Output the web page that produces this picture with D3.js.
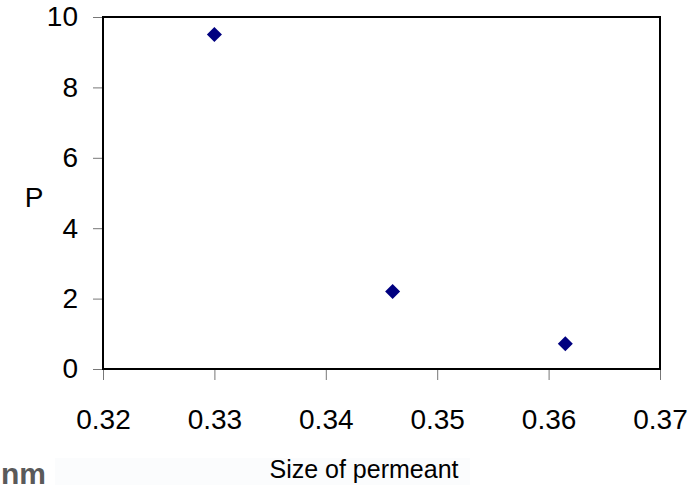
<!DOCTYPE html>
<html>
<head>
<meta charset="utf-8">
<script src="https://cdn.jsdelivr.net/npm/d3@7"></script>
<style>
  body { margin: 0; background: #fff; }
  text { font-family: "Liberation Sans", Arial, sans-serif; }
</style>
</head>
<body>
<div class="chart"></div>
<script>
// data
const sizes = [0.33, 0.346, 0.3615];
const pValues = [9.5, 2.2, 0.72];
const xTicks = [0.32, 0.33, 0.34, 0.35, 0.36, 0.37];
const yTicks = [0, 2, 4, 6, 8, 10];

const width = 698, height = 485;
let plot = {left: 103, top: 17, right: 660, bottom: 369};

const svg = d3.select(".chart")
  .append("svg")
  .attr("width", width)
  .attr("height", height);

const x = d3.scaleLinear().domain([0.32, 0.37]).range([plot.left, plot.right]);
const y = d3.scaleLinear().domain([0, 10]).range([plot.bottom, plot.top]);

// faint smudge strip at the bottom (scan artefact)
svg.append("rect")
  .attr("x", 55).attr("y", 458)
  .attr("width", 415).attr("height", 27)
  .attr("fill", "#fbfcfd");

// ticks
const xAxis = d3.axisBottom(x).tickValues(xTicks).tickSize(11).tickSizeOuter(0)
  .tickPadding(29).tickFormat(d3.format(".2f"));
const gx = svg.append("g")
  .attr("transform", `translate(0, ${plot.bottom})`)
  .call(xAxis);

const yAxis = d3.axisLeft(y).tickValues(yTicks).tickSize(10).tickSizeOuter(0)
  .tickPadding(15).tickFormat(d3.format("d"));
const gy = svg.append("g")
  .attr("transform", `translate(${plot.left}, 0)`)
  .call(yAxis);

[gx, gy].forEach(g => {
  g.select(".domain").remove();
  g.selectAll(".tick line").attr("stroke", "#777").attr("stroke-width", 1);
  g.selectAll(".tick text")
    .attr("font-size", 28)
    .attr("fill", "#000")
    .style("font-family", "'Liberation Sans', Arial, sans-serif");
});

// plot frame
svg.append("rect")
  .attr("x", plot.left)
  .attr("y", plot.top)
  .attr("width", plot.right - plot.left)
  .attr("height", plot.bottom - plot.top)
  .attr("fill", "none")
  .attr("stroke", "#000")
  .attr("stroke-width", 2);

// points
svg.selectAll(".pt")
  .data(sizes.map((s, i) => ({s: s, p: pValues[i]})))
  .enter()
  .append("path")
  .attr("class", "pt")
  .attr("d", d3.symbol().type(d3.symbolDiamond2).size(144))
  .attr("transform", d => `translate(${x(d.s)}, ${y(d.p)})`)
  .attr("fill", "#000080");

// titles
svg.append("text")
  .attr("x", 34)
  .attr("y", 207)
  .attr("text-anchor", "middle")
  .attr("font-size", 28)
  .text("P");

svg.append("text")
  .attr("x", 364)
  .attr("y", 478)
  .attr("text-anchor", "middle")
  .attr("font-size", 25)
  .text("Size of permeant");

svg.append("text")
  .attr("x", 1)
  .attr("y", 484)
  .attr("font-size", 30)
  .attr("font-weight", "bold")
  .attr("fill", "#5a5a5a")
  .text("nm");
</script>
</body>
</html>
